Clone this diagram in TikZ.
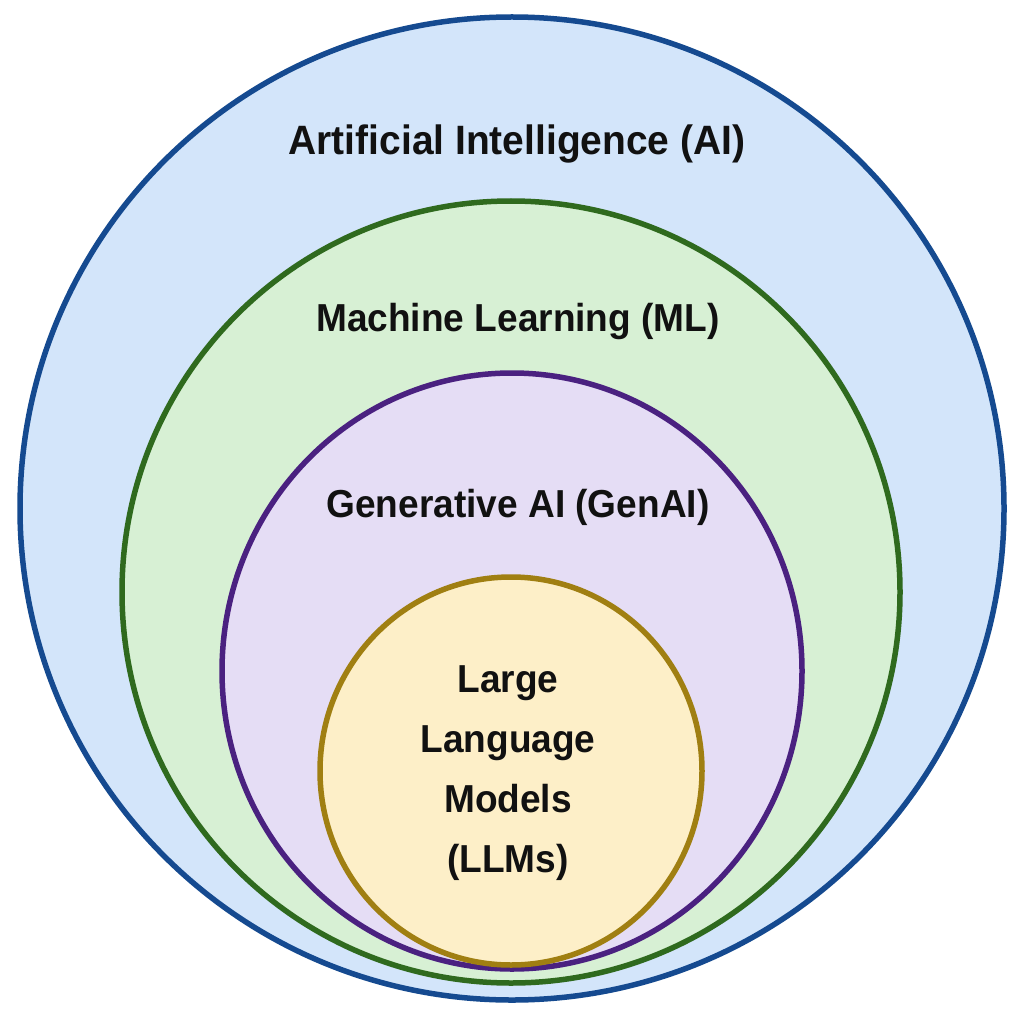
\documentclass[tikz,border=0pt]{standalone}
\usepackage{fontspec}
\setmainfont{Liberation Sans}
\newfontfamily\lblfont[FakeStretch=0.95]{Liberation Sans}
\usetikzlibrary{shapes.geometric}
\definecolor{aifill}{HTML}{D3E5FA}
\definecolor{ailine}{HTML}{154A90}
\definecolor{mlfill}{HTML}{D7F0D4}
\definecolor{mlline}{HTML}{2F6A1E}
\definecolor{gafill}{HTML}{E5DDF5}
\definecolor{galine}{HTML}{4A2180}
\definecolor{llfill}{HTML}{FDEFC8}
\definecolor{llline}{HTML}{A07F12}
\definecolor{txt}{HTML}{111111}
\begin{document}
\begin{tikzpicture}[x=1pt,y=-1pt,
  ring/.style={ellipse, inner sep=0pt, line width=5.5pt},
  lbl/.style={anchor=base, text=txt, font=\lblfont\bfseries\fontsize{39}{60}\selectfont, inner sep=0pt}]
\useasboundingbox (0,0) rectangle (1024,1024);
\fill[white] (0,0) rectangle (1024,1024);
\node[ring, draw=ailine, fill=aifill, minimum width=984pt, minimum height=983pt] (ai) at (512,508.5) {};
\node[ring, draw=mlline, fill=mlfill, minimum width=778pt, minimum height=782pt] (ml) at (511,592) {};
\node[ring, draw=galine, fill=gafill, minimum width=580pt, minimum height=596pt] (ga) at (512,671) {};
\node[ring, draw=llline, fill=llfill, minimum width=382pt, minimum height=388pt] (ll) at (511,771) {};
\node[lbl, font=\lblfont\bfseries\fontsize{41}{48}\selectfont] (tai) at (517,155) {Artificial Intelligence (AI)};
\node[lbl] (tml) at (518,331) {Machine Learning (ML)};
\node[lbl] (tga) at (518,517) {Generative AI (GenAI)};
\node[lbl] (t1) at (508,692) {Large};
\node[lbl] (t2) at (508,752) {Language};
\node[lbl] (t3) at (508,812) {Models};
\node[lbl] (t4) at (508,872) {(LLMs)};
\end{tikzpicture}
\end{document}
